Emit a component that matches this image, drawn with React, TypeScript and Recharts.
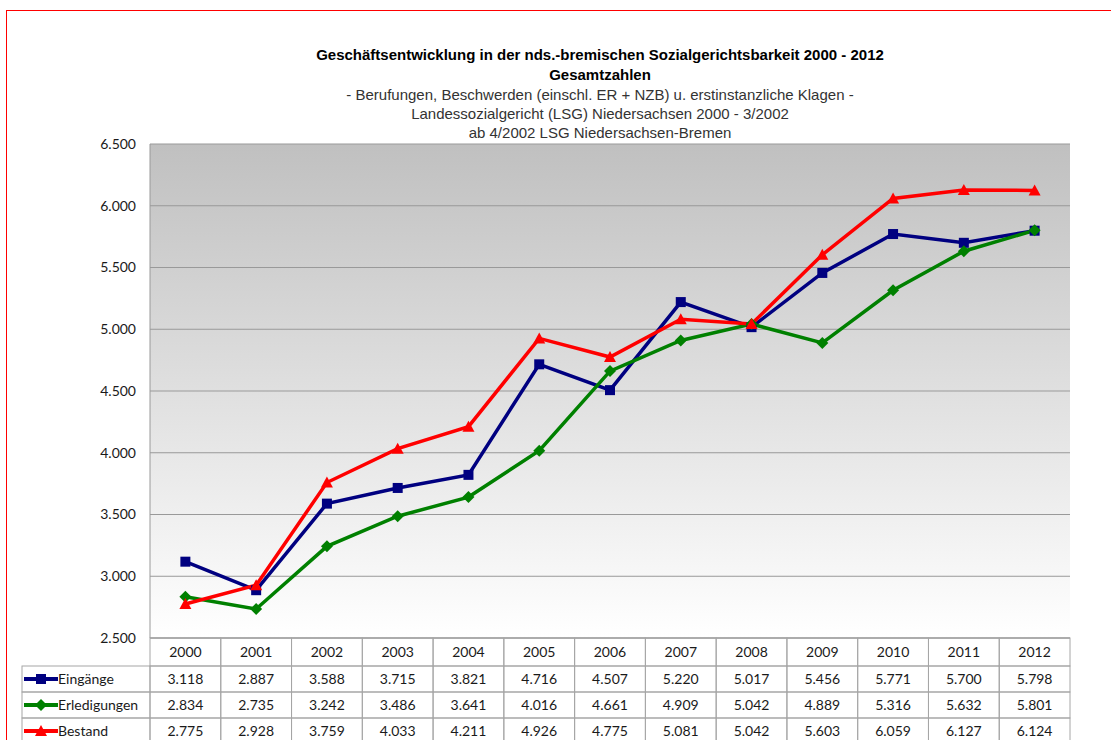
import React from "react";
import { LineChart, Line, XAxis, YAxis, CartesianGrid } from "recharts";

const years = ["2000", "2001", "2002", "2003", "2004", "2005", "2006", "2007", "2008", "2009", "2010", "2011", "2012"];
const eingaenge = [3118, 2887, 3588, 3715, 3821, 4716, 4507, 5220, 5017, 5456, 5771, 5700, 5798];
const erledigungen = [2834, 2735, 3242, 3486, 3641, 4016, 4661, 4909, 5042, 4889, 5316, 5632, 5801];
const bestand = [2775, 2928, 3759, 4033, 4211, 4926, 4775, 5081, 5042, 5603, 6059, 6127, 6124];
const yTicks = [2500, 3000, 3500, 4000, 4500, 5000, 5500, 6000, 6500];

const titleLines = [
  { text: "Geschäftsentwicklung in der nds.-bremischen Sozialgerichtsbarkeit 2000 - 2012", bold: true },
  { text: "Gesamtzahlen", bold: true },
  { text: "- Berufungen, Beschwerden (einschl. ER + NZB) u. erstinstanzliche Klagen -", bold: false },
  { text: "Landessozialgericht (LSG) Niedersachsen 2000 - 3/2002", bold: false },
  { text: "ab 4/2002 LSG Niedersachsen-Bremen", bold: false },
];

const W = 1111;
const H = 740;
const LEFT = 150;
const RIGHT = 41;
const TOP = 144;
const XAXIS_H = 102;
const PLOT_BOTTOM = H - XAXIS_H;
const COL_W = (W - LEFT - RIGHT) / years.length;
const ROW_Y = [PLOT_BOTTOM, 666, 692, 718, 744];
const LEGEND_X = 22;

const NAVY = "#000080";
const GREEN = "#008000";
const RED = "#ff0000";
const GRID = "#999999";
const TABLE_FONT = "Lato, 'Open Sans', sans-serif";

const data = years.map((y, i) => ({
  year: y,
  eingaenge: eingaenge[i],
  erledigungen: erledigungen[i],
  bestand: bestand[i],
}));

const series = [
  { key: "eingaenge", name: "Eingänge", color: NAVY, shape: "square", values: eingaenge },
  { key: "erledigungen", name: "Erledigungen", color: GREEN, shape: "diamond", values: erledigungen },
  { key: "bestand", name: "Bestand", color: RED, shape: "triangle", values: bestand },
];

const fmt = (v: number) => {
  const s = String(Math.round(v));
  return s.length > 3 ? s.slice(0, s.length - 3) + "." + s.slice(-3) : s;
};

function Marker({ cx, cy, shape, color }: any) {
  if (cx == null || cy == null) return null;
  if (shape === "square") {
    return <rect x={cx - 5} y={cy - 5} width={10} height={10} fill={color} />;
  }
  if (shape === "diamond") {
    return <polygon points={`${cx},${cy - 6} ${cx + 6},${cy} ${cx},${cy + 6} ${cx - 6},${cy}`} fill={color} />;
  }
  return <polygon points={`${cx},${cy - 6} ${cx + 6},${cy + 5} ${cx - 6},${cy + 5}`} fill={color} />;
}

function TableTick(props: any) {
  const { x, payload, index } = props;
  const left = x - COL_W / 2;
  const cells = [];
  for (let r = 0; r < 4; r++) {
    const y0 = ROW_Y[r];
    const y1 = ROW_Y[r + 1];
    const label = r === 0 ? payload.value : fmt(series[r - 1].values[index]);
    cells.push(
      <g key={r}>
        <rect x={left} y={y0} width={COL_W} height={y1 - y0} fill="none" stroke="#a6a6a6" strokeWidth={1} />
        <text
          x={x}
          y={(y0 + y1) / 2 + 5}
          textAnchor="middle"
          fontFamily={TABLE_FONT}
          fontSize={14}
          fill="#1a1a1a"
        >
          {label}
        </text>
      </g>
    );
  }
  let legend = null;
  if (index === 0) {
    legend = series.map((s, i) => {
      const y0 = ROW_Y[i + 1];
      const y1 = ROW_Y[i + 2];
      const cy = (y0 + y1) / 2;
      return (
        <g key={s.key}>
          <rect x={LEGEND_X} y={y0} width={left - LEGEND_X} height={y1 - y0} fill="none" stroke="#a6a6a6" strokeWidth={1} />
          <line x1={LEGEND_X + 2} y1={cy} x2={LEGEND_X + 36} y2={cy} stroke={s.color} strokeWidth={4} />
          <Marker cx={LEGEND_X + 19} cy={cy} shape={s.shape} color={s.color} />
          <text x={LEGEND_X + 36} y={cy + 5} fontFamily={TABLE_FONT} fontSize={14} fill="#1a1a1a">
            {s.name}
          </text>
        </g>
      );
    });
  }
  return (
    <g>
      {cells}
      {legend}
    </g>
  );
}

export default function App() {
  return (
    <div style={{ position: "absolute", left: 0, top: 0, width: W, height: H, background: "#fff", overflow: "hidden" }}>
      <div
        style={{
          position: "absolute",
          left: 6,
          top: 10,
          width: W,
          height: H,
          borderTop: "1px solid #ff0000",
          borderLeft: "1px solid #ff0000",
        }}
      />
      <div
        style={{
          position: "absolute",
          left: 0,
          top: 45,
          width: 1200,
          textAlign: "center",
          fontFamily: "'Liberation Sans Narrow', 'Liberation Sans', Arial, sans-serif",
          fontSize: 15,
        }}
      >
        {titleLines.map((l, i) => (
          <div
            key={i}
            style={{
              fontWeight: l.bold ? "bold" : "normal",
              color: l.bold ? "#000" : "#333",
              height: i < 2 ? 20 : 19,
              lineHeight: i < 2 ? "20px" : "19px",
            }}
          >
            {l.text}
          </div>
        ))}
      </div>
      <div style={{ position: "absolute", left: 0, top: 0 }}>
        <LineChart width={W} height={H} data={data} margin={{ top: TOP, right: RIGHT, left: 0, bottom: 0 }}>
          <defs>
            <linearGradient id="plotBg" x1="0" y1="0" x2="0" y2="1">
              <stop offset="0%" stopColor="#c0c0c0" />
              <stop offset="100%" stopColor="#ffffff" />
            </linearGradient>
          </defs>
          <CartesianGrid vertical={false} stroke={GRID} fill="url(#plotBg)" fillOpacity={1} />
          <XAxis
            dataKey="year"
            height={XAXIS_H}
            interval={0}
            padding={{ left: COL_W / 2, right: COL_W / 2 }}
            tickLine={false}
            axisLine={{ stroke: GRID }}
            tick={<TableTick />}
          />
          <YAxis
            width={LEFT}
            domain={[2500, 6500]}
            ticks={yTicks}
            tickFormatter={fmt}
            tickLine={false}
            axisLine={{ stroke: GRID }}
            tickMargin={8}
            tick={{ fontFamily: TABLE_FONT, fontSize: 14, fill: "#1a1a1a" }}
          />
          {series.map((s) => (
            <Line
              key={s.key}
              dataKey={s.key}
              name={s.name}
              stroke={s.color}
              strokeWidth={3.5}
              isAnimationActive={false}
              dot={(p: any) => <Marker key={`${s.key}-${p.index}`} cx={p.cx} cy={p.cy} shape={s.shape} color={s.color} />}
              activeDot={false}
            />
          ))}
        </LineChart>
      </div>
    </div>
  );
}
